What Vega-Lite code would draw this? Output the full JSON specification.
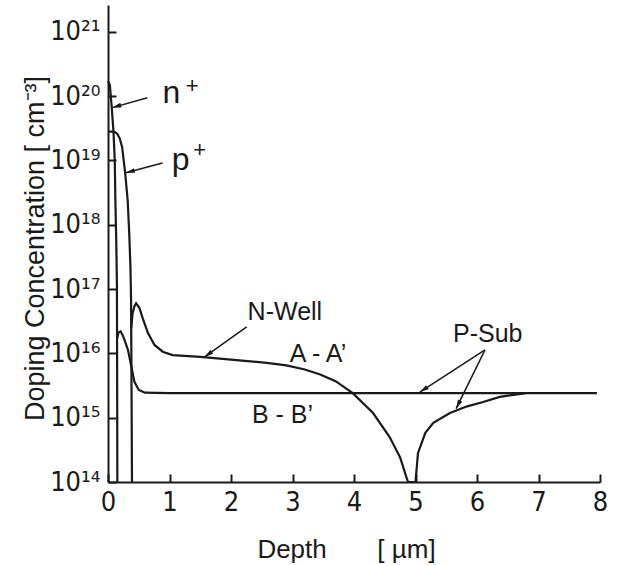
{
  "$schema": "https://vega.github.io/schema/vega-lite/v6.json",
  "width": 492,
  "height": 477,
  "autosize": "none",
  "padding": {"left": 108, "top": 5, "right": 30, "bottom": 84},
  "background": "white",
  "config": {"view": {"stroke": null}, "font": "Liberation Sans"},
  "datasets": {
    "curves": [
      {"s": "n+", "x": 0, "y": 1.7e20},
      {"s": "n+", "x": 0.03, "y": 1.5e20},
      {"s": "n+", "x": 0.06, "y": 6.8e19},
      {"s": "n+", "x": 0.09, "y": 2.7e19},
      {"s": "n+", "x": 0.11, "y": 1.0e19},
      {"s": "n+", "x": 0.12, "y": 2.4e18},
      {"s": "n+", "x": 0.135, "y": 5e17},
      {"s": "n+", "x": 0.145, "y": 1.2e17},
      {"s": "n+", "x": 0.148, "y": 1e16},
      {"s": "n+", "x": 0.15, "y": 1e15},
      {"s": "n+", "x": 0.152, "y": 1e14},
      {"s": "p+", "x": 0, "y": 2.8e19},
      {"s": "p+", "x": 0.1, "y": 2.8e19},
      {"s": "p+", "x": 0.15, "y": 2.6e19},
      {"s": "p+", "x": 0.19, "y": 2.2e19},
      {"s": "p+", "x": 0.23, "y": 1.6e19},
      {"s": "p+", "x": 0.255, "y": 1.0e19},
      {"s": "p+", "x": 0.28, "y": 6.2e18},
      {"s": "p+", "x": 0.32, "y": 2.4e18},
      {"s": "p+", "x": 0.345, "y": 7.4e17},
      {"s": "p+", "x": 0.365, "y": 2.2e17},
      {"s": "p+", "x": 0.375, "y": 6.8e16},
      {"s": "p+", "x": 0.38, "y": 1e16},
      {"s": "p+", "x": 0.385, "y": 1e15},
      {"s": "p+", "x": 0.39, "y": 1e14},
      {"s": "B", "x": 0.148, "y": 1.7e16},
      {"s": "B", "x": 0.17, "y": 2.1e16},
      {"s": "B", "x": 0.205, "y": 2.2e16},
      {"s": "B", "x": 0.24, "y": 1.9e16},
      {"s": "B", "x": 0.27, "y": 1.6e16},
      {"s": "B", "x": 0.325, "y": 1.13e16},
      {"s": "B", "x": 0.38, "y": 6.2e15},
      {"s": "B", "x": 0.43, "y": 3.6e15},
      {"s": "B", "x": 0.5, "y": 2.7e15},
      {"s": "B", "x": 0.6, "y": 2.45e15},
      {"s": "B", "x": 1.0, "y": 2.4e15},
      {"s": "B", "x": 7.95, "y": 2.4e15},
      {"s": "A", "x": 0.378, "y": 2.5e16},
      {"s": "A", "x": 0.4, "y": 4.2e16},
      {"s": "A", "x": 0.43, "y": 5.4e16},
      {"s": "A", "x": 0.457, "y": 6.0e16},
      {"s": "A", "x": 0.51, "y": 5.1e16},
      {"s": "A", "x": 0.565, "y": 3.5e16},
      {"s": "A", "x": 0.65, "y": 2.07e16},
      {"s": "A", "x": 0.756, "y": 1.35e16},
      {"s": "A", "x": 0.89, "y": 1.06e16},
      {"s": "A", "x": 1.05, "y": 9.4e15},
      {"s": "A", "x": 1.5, "y": 8.8e15},
      {"s": "A", "x": 2.0, "y": 8.0e15},
      {"s": "A", "x": 2.58, "y": 7.1e15},
      {"s": "A", "x": 2.9, "y": 6.5e15},
      {"s": "A", "x": 3.2, "y": 5.6e15},
      {"s": "A", "x": 3.45, "y": 4.7e15},
      {"s": "A", "x": 3.7, "y": 3.7e15},
      {"s": "A", "x": 3.98, "y": 2.4e15},
      {"s": "A", "x": 4.31, "y": 1.18e15},
      {"s": "A", "x": 4.58, "y": 5e14},
      {"s": "A", "x": 4.75, "y": 2.4e14},
      {"s": "A", "x": 4.85, "y": 1.2e14},
      {"s": "A", "x": 4.88, "y": 1e14},
      {"s": "A", "x": 5.0, "y": 1e14},
      {"s": "A", "x": 5.04, "y": 2.8e14},
      {"s": "A", "x": 5.16, "y": 5.8e14},
      {"s": "A", "x": 5.29, "y": 8.3e14},
      {"s": "A", "x": 5.56, "y": 1.18e15},
      {"s": "A", "x": 5.84, "y": 1.5e15},
      {"s": "A", "x": 6.1, "y": 1.75e15},
      {"s": "A", "x": 6.37, "y": 2.1e15},
      {"s": "A", "x": 6.65, "y": 2.3e15},
      {"s": "A", "x": 6.8, "y": 2.4e15}
    ],
    "arrows": [
      {"a": "n", "pt": "start", "x": 0.64, "y": 9.4e19},
      {"a": "n", "pt": "end", "x": 0.07, "y": 6.6e19},
      {"a": "p", "pt": "start", "x": 0.886, "y": 9.1e18},
      {"a": "p", "pt": "end", "x": 0.29, "y": 6.4e18},
      {"a": "w", "pt": "start", "x": 2.255, "y": 2.57e16},
      {"a": "w", "pt": "end", "x": 1.57, "y": 8.8e15},
      {"a": "s1", "pt": "start", "x": 6.13, "y": 1.13e16},
      {"a": "s1", "pt": "end", "x": 5.07, "y": 2.5e15},
      {"a": "s2", "pt": "start", "x": 6.13, "y": 1.13e16},
      {"a": "s2", "pt": "end", "x": 5.66, "y": 1.38e15}
    ],
    "labels": [
      {"t": "N-Well", "x": 2.27, "y": 3.3e16},
      {"t": "A - A’", "x": 2.955, "y": 7.35e15},
      {"t": "B - B’", "x": 2.34, "y": 8.3e14},
      {"t": "P-Sub", "x": 5.61, "y": 1.5e16}
    ],
    "biglabels": [
      {"t": "n", "x": 0.886, "y": 7.8e19},
      {"t": "p", "x": 1.036, "y": 7.1e18}
    ],
    "plus": [
      {"t": "+", "x": 1.37, "y": 1.44e20},
      {"t": "+", "x": 1.49, "y": 1.46e19}
    ]
  },
  "encoding": {
    "x": {
      "field": "x", "type": "quantitative",
      "scale": {"domain": [0, 8], "nice": false, "zero": false},
      "axis": {
        "title": "Depth\u00a0\u00a0\u00a0\u00a0\u00a0\u00a0 [ µm]",
        "values": [0, 1, 2, 3, 4, 5, 6, 7, 8],
        "grid": false,
        "tickSize": -8, "tickWidth": 2, "tickColor": "#1a1a1a",
        "domainWidth": 2, "domainColor": "#1a1a1a",
        "labelFont": "DejaVu Sans Condensed",
        "labelFontSize": 27, "labelColor": "#1a1a1a", "labelPadding": 15,
        "labelFlush": false, "labelOverlap": false,
        "titleFontSize": 26, "titleFontWeight": "normal", "titleColor": "#1a1a1a",
        "titleX": 238, "titleY": 75, "titleBaseline": "alphabetic", "titleAlign": "center"
      }
    },
    "y": {
      "field": "y", "type": "quantitative",
      "scale": {"type": "log", "domain": [1e14, 2.6e21], "nice": false},
      "axis": {
        "title": "Doping Concentration [ cm⁻³]",
        "values": [1e14, 1e15, 1e16, 1e17, 1e18, 1e19, 1e20, 1e21],
        "grid": false,
        "tickSize": -8, "tickWidth": 2, "tickColor": "#1a1a1a",
        "domainWidth": 2, "domainColor": "#1a1a1a",
        "labelFont": "DejaVu Sans Condensed",
        "labelFontSize": 27, "labelColor": "#1a1a1a", "labelPadding": 16,
        "labelOverlap": false, "labelFlush": false,
        "labelExpr": "datum.value < 5e14 ? '10¹⁴' : datum.value < 5e15 ? '10¹⁵' : datum.value < 5e16 ? '10¹⁶' : datum.value < 5e17 ? '10¹⁷' : datum.value < 5e18 ? '10¹⁸' : datum.value < 5e19 ? '10¹⁹' : datum.value < 5e20 ? '10²⁰' : '10²¹'",
        "titleFontSize": 27, "titleFontWeight": "normal", "titleColor": "#1a1a1a",
        "titleX": -65, "titleY": 243, "titleBaseline": "alphabetic", "titleAlign": "center", "titleAngle": -90
      }
    }
  },
  "layer": [
    {
      "data": {"name": "curves"},
      "mark": {"type": "line", "color": "#1a1a1a", "strokeWidth": 2.2, "clip": false},
      "encoding": {"detail": {"field": "s"}}
    },
    {
      "data": {"name": "arrows"},
      "mark": {"type": "line", "color": "#1a1a1a", "strokeWidth": 1.5},
      "encoding": {"detail": {"field": "a"}}
    },
    {
      "data": {"name": "arrows"},
      "transform": [{"filter": "datum.pt == 'end' && datum.a == 'n'"}],
      "mark": {"type": "point", "shape": "M0,0L-0.8,3L0.8,3Z", "filled": true, "color": "#1a1a1a", "size": 36, "angle": 254, "opacity": 1}
    },
    {
      "data": {"name": "arrows"},
      "transform": [{"filter": "datum.pt == 'end' && datum.a == 'p'"}],
      "mark": {"type": "point", "shape": "M0,0L-0.8,3L0.8,3Z", "filled": true, "color": "#1a1a1a", "size": 36, "angle": 255, "opacity": 1}
    },
    {
      "data": {"name": "arrows"},
      "transform": [{"filter": "datum.pt == 'end' && datum.a == 'w'"}],
      "mark": {"type": "point", "shape": "M0,0L-0.8,3L0.8,3Z", "filled": true, "color": "#1a1a1a", "size": 36, "angle": 234.5, "opacity": 1}
    },
    {
      "data": {"name": "arrows"},
      "transform": [{"filter": "datum.pt == 'end' && datum.a == 's1'"}],
      "mark": {"type": "point", "shape": "M0,0L-0.8,3L0.8,3Z", "filled": true, "color": "#1a1a1a", "size": 36, "angle": 237, "opacity": 1}
    },
    {
      "data": {"name": "arrows"},
      "transform": [{"filter": "datum.pt == 'end' && datum.a == 's2'"}],
      "mark": {"type": "point", "shape": "M0,0L-0.8,3L0.8,3Z", "filled": true, "color": "#1a1a1a", "size": 36, "angle": 206.6, "opacity": 1}
    },
    {
      "data": {"name": "labels"},
      "mark": {"type": "text", "align": "left", "baseline": "alphabetic", "fontSize": 25, "color": "#1a1a1a"},
      "encoding": {"text": {"field": "t"}}
    },
    {
      "data": {"name": "biglabels"},
      "mark": {"type": "text", "align": "left", "baseline": "alphabetic", "fontSize": 32, "color": "#1a1a1a"},
      "encoding": {"text": {"field": "t"}}
    },
    {
      "data": {"name": "plus"},
      "mark": {"type": "text", "align": "center", "baseline": "middle", "fontSize": 22, "color": "#1a1a1a"},
      "encoding": {"text": {"field": "t"}}
    }
  ]
}
